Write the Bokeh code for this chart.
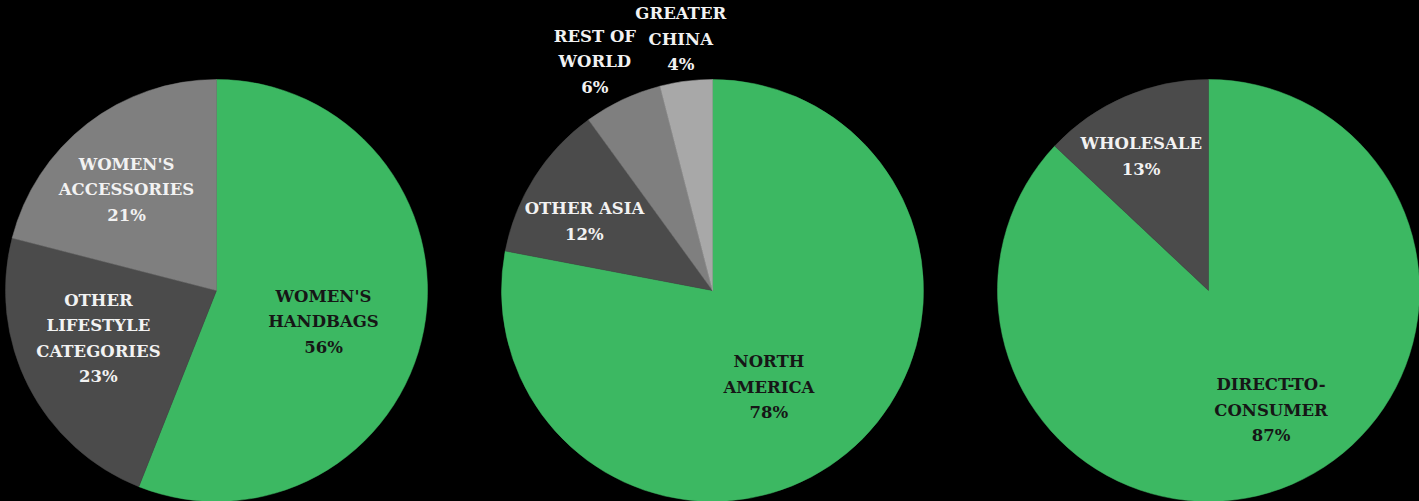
import math
from bokeh.plotting import figure
from bokeh.embed import file_html
from bokeh.resources import INLINE
from bokeh.core.properties import value

# ---- data ----
product_labels = ["WOMEN'S\nHANDBAGS", "OTHER\nLIFESTYLE\nCATEGORIES", "WOMEN'S\nACCESSORIES"]
product_values = [56, 23, 21]

region_labels = ["NORTH\nAMERICA", "OTHER ASIA", "REST OF\nWORLD", "GREATER\nCHINA"]
region_values = [78, 12, 6, 4]

channel_labels = ["DIRECT-TO-\nCONSUMER", "WHOLESALE"]
channel_values = [87, 13]

# ---- styles ----
GREEN = "#3cb862"
DARK = "#4b4b4b"
MID = "#7f7f7f"
LIGHT = "#a8a8a8"
W, H = 1419, 501
R = 211
FONT = "DejaVu Serif"
FSIZE = "16.5px"
LINE = 25.5

pies = [
    dict(cx=216, cy=290, labels=product_labels, values=product_values,
         colors=[GREEN, DARK, MID], tcolors=["#161616", "#f2f2f2", "#f2f2f2"],
         rfrac=[0.528, 0.604, 0.641], adj=[5.4, 4.9, -3.9]),
    dict(cx=712, cy=290, labels=region_labels, values=region_values,
         colors=[GREEN, DARK, MID, LIGHT], tcolors=["#161616", "#f2f2f2", "#f2f2f2", "#f2f2f2"],
         rfrac=[0.53, 0.69, 1.22, 1.2], adj=[9.3, -4, -2, 0]),
    dict(cx=1208, cy=290, labels=channel_labels, values=channel_values,
         colors=[GREEN, DARK], tcolors=["#161616", "#f2f2f2"],
         rfrac=[0.64, 0.71], adj=[-4.2, -3.3]),
]

p = figure(width=W, height=H, x_range=(0, W), y_range=(0, H),
           output_backend="svg", toolbar_location=None, min_border=0)
p.axis.visible = False
p.grid.visible = False
p.outline_line_color = None
p.background_fill_color = "black"
p.border_fill_color = "black"

for pie in pies:
    cx, cy_screen = pie["cx"], pie["cy"]
    cy = H - cy_screen
    total = float(sum(pie["values"]))
    cum = 0.0
    for lab, v, col, tcol, rf, adj in zip(pie["labels"], pie["values"], pie["colors"],
                                          pie["tcolors"], pie["rfrac"], pie["adj"]):
        t0 = cum / total * 2 * math.pi          # clockwise from top
        t1 = (cum + v) / total * 2 * math.pi
        cum += v
        p.wedge(x=cx, y=cy, radius=R,
                start_angle=math.pi / 2 - t0, end_angle=math.pi / 2 - t1,
                direction="clock", fill_color=col, line_color=col, line_width=0.5)
        tm = (t0 + t1) / 2 + math.radians(adj)
        lx = cx + rf * R * math.sin(tm)
        ly = cy + rf * R * math.cos(tm)
        lines = lab.split("\n") + ["%d%%" % v]
        n = len(lines)
        for i, s in enumerate(lines):
            yy = ly + ((n - 1) / 2 - i) * LINE
            p.text(x=[lx], y=[yy], text=[s], text_align="center", text_baseline="middle",
                   text_font=value(FONT), text_font_style="bold",
                   text_font_size=FSIZE, text_color=tcol)

html = file_html(p, INLINE)
html = html.replace("<head>", "<head><style>html,body{background:#000;margin:0;}</style>", 1)
open("out.html", "w").write(html)
